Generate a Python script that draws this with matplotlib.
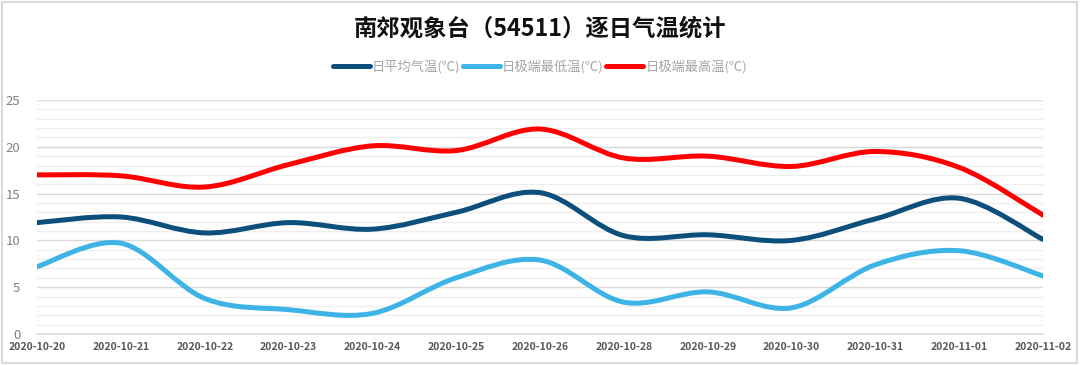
import matplotlib
matplotlib.use("Agg")
import matplotlib.pyplot as plt
from matplotlib.path import Path
from matplotlib.patches import PathPatch, Rectangle
from matplotlib.lines import Line2D
import numpy as np

plt.rcParams['font.family'] = ['Noto Sans CJK SC', 'DejaVu Sans']

dates = ["2020-10-20", "2020-10-21", "2020-10-22", "2020-10-23", "2020-10-24",
         "2020-10-25", "2020-10-26", "2020-10-28", "2020-10-29", "2020-10-30",
         "2020-10-31", "2020-11-01", "2020-11-02"]
t_avg = [11.9, 12.5, 10.8, 11.9, 11.2, 13.0, 15.1, 10.5, 10.6, 10.0, 12.3, 14.5, 10.1]
t_min = [7.2, 9.7, 3.8, 2.6, 2.2, 6.0, 7.9, 3.4, 4.5, 2.8, 7.4, 8.9, 6.2]
t_max = [17.0, 16.9, 15.7, 18.1, 20.1, 19.6, 21.9, 18.8, 19.0, 17.9, 19.5, 17.8, 12.7]

series_names = ["日平均气温(℃)", "日极端最低温(℃)", "日极端最高温(℃)"]
colors = ["#0C4E7C", "#3DB4E5", "#FF0000"]
title = "南郊观象台（54511）逐日气温统计"


def smooth_path(xs, ys):
    pts = np.column_stack([xs, ys]).astype(float)
    n = len(pts)
    verts = [pts[0]]
    codes = [Path.MOVETO]
    for i in range(n - 1):
        p0 = pts[i - 1] if i > 0 else pts[i]
        p1 = pts[i]
        p2 = pts[i + 1]
        p3 = pts[i + 2] if i + 2 < n else pts[i + 1]
        c1 = p1 + (p2 - p0) / 6.0
        c2 = p2 - (p3 - p1) / 6.0
        verts += [c1, c2, p2]
        codes += [Path.CURVE4] * 3
    return Path(verts, codes)


fig = plt.figure(figsize=(10.8, 3.65), dpi=100)
ax = fig.add_axes([37 / 1080, 1 - 334 / 365, (1043 - 37) / 1080, (334 - 100) / 365])

x = np.arange(len(dates))
for ys, c in zip([t_avg, t_min, t_max], colors):
    patch = PathPatch(smooth_path(x, ys), facecolor='none', edgecolor=c,
                      lw=3.6, capstyle='round', joinstyle='round', zorder=3)
    ax.add_patch(patch)

ax.set_xlim(0, len(dates) - 1)
ax.set_ylim(0, 25)
ax.set_xticks(x)
ax.set_xticklabels(dates, fontsize=7.5, fontweight='bold', color='#595959')
ax.set_yticks(range(0, 26, 5))
ax.set_yticklabels([str(v) for v in range(0, 26, 5)], fontsize=9.5, color='#808080')
ax.set_yticks(range(0, 26), minor=True)
ax.tick_params(axis='both', length=0, which='both')
ax.tick_params(axis='x', pad=6)
ax.tick_params(axis='y', pad=12)
for lbl in ax.get_yticklabels():
    lbl.set_va('center_baseline')
ax.grid(True, which='minor', axis='y', color='#eeeeee', lw=0.9, zorder=0)
ax.grid(True, which='major', axis='y', color='#d9d9d9', lw=1.0, zorder=1)
for s in ['top', 'right', 'left']:
    ax.spines[s].set_visible(False)
ax.spines['bottom'].set_color('#d9d9d9')
ax.spines['bottom'].set_linewidth(1.2)
ax.set_axisbelow(True)

fig.text(0.5, 1 - 28 / 365, title, ha='center', va='center',
         fontsize=16.8, fontweight='bold', color='#111111')

handles = [Line2D([], [], color=c, lw=3.6, solid_capstyle='round') for c in colors]
leg = fig.legend(handles, series_names, loc='center', bbox_to_anchor=(0.5, 1 - 67 / 365),
                 ncol=3, frameon=False, fontsize=9.5, handlelength=2.8,
                 handletextpad=0.15, columnspacing=0.2, borderaxespad=0)
for t in leg.get_texts():
    t.set_color('#a6a6a6')

fig.patches.append(Rectangle((2 / 1080, 2 / 365), 1075 / 1080, 361 / 365,
                             transform=fig.transFigure, fill=False,
                             edgecolor='#d9d9d9', lw=1.5))

fig.savefig("out.png", dpi=100, facecolor='white')
